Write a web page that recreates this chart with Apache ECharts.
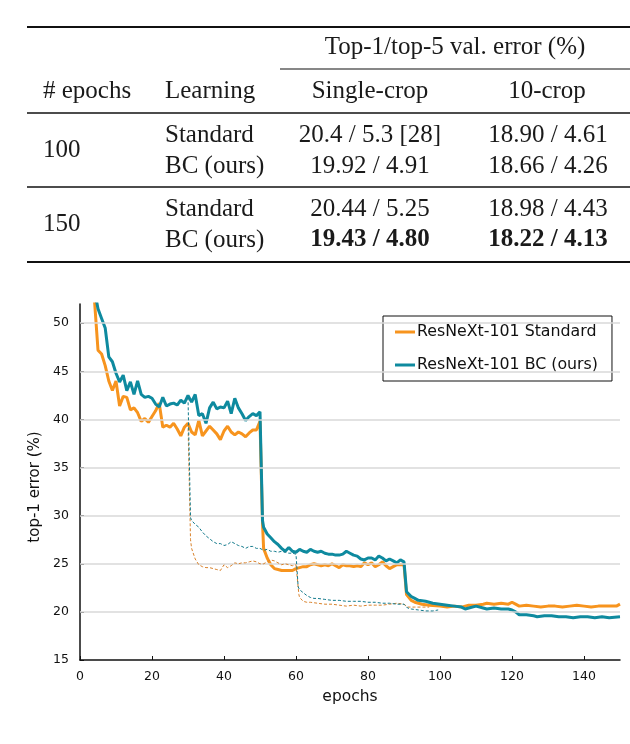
<!DOCTYPE html>
<html>
<head>
<meta charset="utf-8">
<script src="https://cdn.jsdelivr.net/npm/echarts@6/dist/echarts.min.js"></script>
<style>
html,body{margin:0;padding:0;background:#fff;}
#c{width:630px;height:744px;}
</style>
</head>
<body>
<div id="c"></div>
<script>
// ---- Table data ----
var tableHeader = ['# epochs', 'Learning', 'Single-crop', '10-crop'];
var tableGroupTitle = 'Top-1/top-5 val. error (%)';
var tableEpochs = ['100', '150'];
var tableMethods = ['Standard', 'BC (ours)'];
var singleCrop = [['20.4 / 5.3 [28]', '19.92 / 4.91'], ['20.44 / 5.25', '19.43 / 4.80']];
var tenCrop = [['18.90 / 4.61', '18.66 / 4.26'], ['18.98 / 4.43', '18.22 / 4.13']];

// ---- Chart data ----
var seriesNames = ['ResNeXt-101 Standard', 'ResNeXt-101 BC (ours)'];
var yTicks = [20, 25, 30, 35, 40, 45, 50];

var std150 = [[4,52.5],[5,47.2],[6,46.8],[7,45.6],[8,44.0],[9,43.0],[10,44.0],[11,41.4],[12,42.4],[13,42.3],[14,41.0],[15,41.2],[16,40.7],[17,39.8],[18,40.1],[19,39.7],[20,40.3],[21,40.9],[22,41.7],[23,39.2],[24,39.4],[25,39.2],[26,39.6],[27,39.0],[28,38.3],[29,39.2],[30,39.6],[31,38.7],[32,38.4],[33,39.9],[34,38.3],[35,38.8],[36,39.3],[37,38.9],[38,38.5],[39,37.9],[40,38.8],[41,39.3],[42,38.7],[43,38.4],[44,38.7],[45,38.5],[46,38.2],[47,38.6],[48,38.9],[49,38.9],[50,39.8],[50.7,29.2],[51,26.6],[52,25.6],[53,24.9],[54,24.5],[55,24.4],[56,24.3],[57,24.3],[58,24.3],[59,24.3],[60,24.5],[61,24.6],[62,24.7],[63,24.7],[64,24.9],[65,25.0],[66,24.9],[67,24.8],[68,24.9],[69,24.8],[70,25.0],[71,24.8],[72,24.6],[73,24.9],[74,24.8],[75,24.8],[76,24.7],[77,24.8],[78,24.7],[79,25.1],[80,24.9],[81,25.1],[82,24.7],[83,24.9],[84,25.2],[85,24.8],[86,24.5],[87,24.7],[88,24.9],[89,24.9],[90,24.9],[90.7,21.8],[91,21.6],[92,21.2],[93,21.0],[94,20.9],[95,20.8],[97,20.7],[100,20.6],[102,20.5],[104,20.6],[106,20.5],[108,20.7],[110,20.7],[112,20.8],[113,20.9],[115,20.8],[117,20.9],[119,20.8],[120,21.0],[121,20.8],[122,20.6],[124,20.7],[126,20.6],[128,20.5],[130,20.6],[132,20.6],[134,20.5],[136,20.6],[138,20.7],[140,20.6],[142,20.5],[144,20.6],[146,20.6],[148,20.6],[149,20.6],[150,20.8]];

var bc150 = [[4.5,52.5],[5,51.5],[6,50.5],[7,49.5],[8,46.5],[9,46.0],[10,44.8],[11,43.9],[12,44.6],[13,43.0],[14,43.9],[15,42.6],[16,44.0],[17,42.6],[18,42.3],[19,42.4],[20,42.2],[21,41.6],[22,41.3],[23,42.3],[24,41.4],[25,41.6],[26,41.7],[27,41.5],[28,42.0],[29,41.7],[30,42.5],[31,41.8],[32,42.6],[33,40.4],[34,40.6],[35,39.6],[36,41.2],[37,41.8],[38,41.1],[39,41.3],[40,41.2],[41,41.9],[42,40.6],[43,42.2],[44,41.2],[45,40.6],[46,39.9],[47,40.3],[48,40.6],[49,40.4],[50,40.8],[50.7,29.5],[51,28.8],[52,28.1],[53,27.7],[54,27.3],[55,27.0],[56,26.6],[57,26.3],[58,26.7],[59,26.3],[60,26.2],[61,26.5],[62,26.3],[63,26.2],[64,26.5],[65,26.3],[66,26.2],[67,26.3],[68,26.1],[69,26.0],[70,26.0],[71,25.9],[72,25.9],[73,26.0],[74,26.3],[75,26.1],[76,25.9],[77,25.8],[78,25.5],[79,25.4],[80,25.6],[81,25.6],[82,25.4],[83,25.8],[84,25.6],[85,25.3],[86,25.5],[87,25.3],[88,25.1],[89,25.4],[90,25.2],[90.7,22.1],[91,21.9],[92,21.6],[93,21.4],[94,21.2],[96,21.1],[98,20.9],[100,20.8],[102,20.7],[104,20.6],[106,20.5],[107,20.3],[108,20.4],[110,20.6],[112,20.4],[113,20.3],[115,20.4],[117,20.3],[119,20.3],[120,20.2],[121,20.0],[122,19.7],[124,19.7],[126,19.6],[127,19.5],[129,19.6],[131,19.6],[133,19.5],[135,19.5],[137,19.4],[139,19.5],[141,19.5],[143,19.4],[145,19.5],[147,19.4],[150,19.5]];

var std100 = [[30,39.6],[30.7,27.5],[31,26.6],[32,25.5],[33,24.9],[34,24.7],[35,24.6],[36,24.6],[37,24.5],[38,24.4],[39,24.3],[40,24.9],[41,24.6],[42,24.8],[43,25.1],[44,25.0],[45,25.1],[46,25.1],[47,25.2],[48,25.3],[49,25.2],[50,25.0],[51,25.0],[52,25.2],[53,25.4],[54,25.3],[55,25.1],[56,24.9],[57,25.0],[58,24.9],[59,24.8],[60,24.9],[60.8,21.8],[61,21.5],[62,21.1],[63,21.0],[64,21.0],[66,20.9],[68,20.8],[70,20.8],[72,20.7],[74,20.6],[76,20.7],[78,20.6],[80,20.7],[82,20.7],[84,20.7],[86,20.8],[88,20.9],[90,20.8],[91,20.5],[93,20.5],[95,20.5],[97,20.5]];

var bc100 = [[30,42.3],[30.7,29.8],[31,29.5],[32,29.1],[33,28.8],[34,28.3],[35,27.9],[36,27.6],[37,27.3],[38,27.1],[39,27.1],[40,26.9],[41,27.0],[42,27.3],[43,27.1],[44,26.9],[45,26.8],[46,26.6],[47,26.8],[48,26.8],[49,26.6],[50,26.6],[51,26.4],[52,26.5],[53,26.3],[54,26.3],[55,26.2],[56,26.3],[57,26.2],[58,26.1],[59,26.1],[60,26.0],[60.6,22.6],[61,22.3],[62,22.0],[63,21.7],[64,21.5],[65,21.4],[66,21.4],[68,21.3],[70,21.2],[72,21.2],[74,21.1],[76,21.1],[78,21.1],[80,21.0],[82,21.0],[84,20.9],[86,20.9],[88,20.8],[90,20.8],[91,20.4],[92,20.3],[94,20.2],[96,20.1],[98,20.1],[99.5,20.2]];

var ORANGE = '#F7941E';
var TEAL = '#0E8A9F';
var serif = '"Liberation Serif", "DejaVu Serif", serif';
var sans = '"DejaVu Sans", "Liberation Sans", Arial, sans-serif';

// ---- Table graphics ----
var g = [];
function hline(x1, x2, y, w) {
  g.push({type: 'line', shape: {x1: x1, y1: y, x2: x2, y2: y}, style: {stroke: '#111', lineWidth: w}});
}
function txt(t, x, y, align, bold) {
  g.push({type: 'text', x: x, y: y, style: {text: t, font: (bold ? 'bold ' : '') + '25px ' + serif, fill: '#1a1a1a', textAlign: align, textVerticalAlign: 'middle'}});
}
hline(27, 630, 27, 2.2);
txt(tableGroupTitle, 455, 47, 'center');
hline(280, 630, 69, 1.2);
txt(tableHeader[0], 43, 91, 'left');
txt(tableHeader[1], 165, 91, 'left');
txt(tableHeader[2], 370, 91, 'center');
txt(tableHeader[3], 547, 91, 'center');
hline(27, 630, 113, 1.4);
var rowY = [[135, 166], [209, 240]];
for (var i = 0; i < 2; i++) {
  txt(tableEpochs[i], 43, (rowY[i][0] + rowY[i][1]) / 2, 'left');
  for (var j = 0; j < 2; j++) {
    var bold = (i === 1 && j === 1);
    txt(tableMethods[j], 165, rowY[i][j], 'left');
    txt(singleCrop[i][j], 370, rowY[i][j], 'center', bold);
    txt(tenCrop[i][j], 548, rowY[i][j], 'center', bold);
  }
}
hline(27, 630, 187, 1.4);
hline(27, 630, 262, 2.2);

var chart = echarts.init(document.getElementById('c'), null, {renderer: 'canvas'});
chart.setOption({
  animation: false,
  backgroundColor: '#fff',
  graphic: g,
  grid: {left: 80, right: 10, top: 304, bottom: 84, containLabel: false},
  legend: {
    data: seriesNames,
    orient: 'vertical',
    left: 383, top: 316,
    backgroundColor: '#fff',
    borderColor: '#111', borderWidth: 1, borderRadius: 0,
    padding: [8, 14, 8, 12],
    itemGap: 17,
    itemWidth: 20, itemHeight: 3,
    icon: 'rect',
    textStyle: {fontFamily: sans, fontSize: 15.8, color: '#111', padding: [0, 0, 0, -3]}
  },
  xAxis: {
    type: 'value', min: 0, max: 150, interval: 20,
    name: 'epochs', nameLocation: 'middle', nameGap: 29,
    nameTextStyle: {fontFamily: sans, fontSize: 15.5, color: '#111'},
    axisLine: {show: true, lineStyle: {color: '#111', width: 1.5}},
    axisTick: {show: true, inside: true, length: 4, lineStyle: {color: '#111', width: 1}},
    axisLabel: {fontFamily: sans, fontSize: 12.5, color: '#111', margin: 10, showMaxLabel: false},
    splitLine: {show: false}
  },
  yAxis: {
    type: 'value', min: 15, max: 52, interval: 5,
    name: 'top-1 error (%)', nameLocation: 'middle', nameGap: 37,
    nameTextStyle: {fontFamily: sans, fontSize: 15, color: '#111', padding: [0, 0, 0, -10]},
    axisLine: {show: true, lineStyle: {color: '#111', width: 1.5}},
    axisTick: {show: true, inside: true, length: 4, lineStyle: {color: '#111', width: 1}},
    axisLabel: {fontFamily: sans, fontSize: 12.5, color: '#111', margin: 11, showMaxLabel: false},
    splitLine: {show: false}
  },
  series: [
    {
      name: 'grid', type: 'line', data: [], silent: true,
      markLine: {
        silent: true, symbol: 'none', label: {show: false},
        lineStyle: {color: '#d9d9d9', width: 1.5, type: 'solid'},
        data: yTicks.map(function (v) { return {yAxis: v}; })
      }
    },
    {name: seriesNames[0], type: 'line', data: std150, showSymbol: false, symbol: 'none', color: ORANGE, lineStyle: {color: ORANGE, width: 3}, z: 3},
    {name: seriesNames[1], type: 'line', data: bc150, showSymbol: false, symbol: 'none', color: TEAL, lineStyle: {color: TEAL, width: 3}, z: 4},
    {name: 'std100', type: 'line', data: std100, showSymbol: false, symbol: 'none', lineStyle: {color: '#D9822B', width: 1, type: [3, 2]}, z: 5},
    {name: 'bc100', type: 'line', data: bc100, showSymbol: false, symbol: 'none', lineStyle: {color: '#127A8C', width: 1, type: [3, 2]}, z: 5}
  ]
});
</script>
</body>
</html>
